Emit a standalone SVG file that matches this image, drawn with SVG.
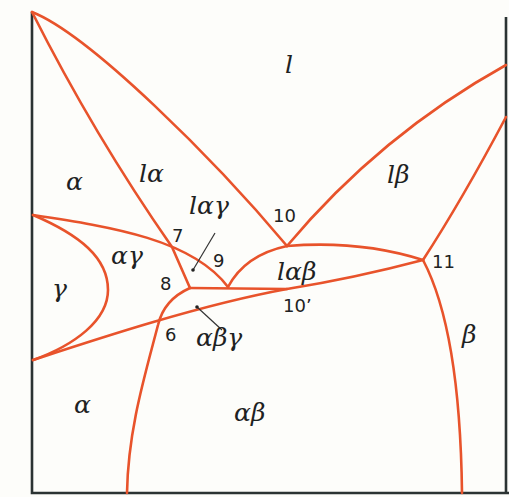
<svg xmlns="http://www.w3.org/2000/svg" width="509" height="497" viewBox="0 0 509 497">
<style>
.c{fill:none;stroke:#e8532b;stroke-width:2.6;stroke-linecap:round;stroke-linejoin:round}
.f{fill:none;stroke:#2b3333;stroke-width:2.6}
.g{font-family:"DejaVu Serif","Liberation Serif",serif;font-style:italic;font-size:25px;fill:#1e2222}
.n{font-family:"DejaVu Sans","Liberation Sans",sans-serif;font-size:18px;fill:#1e2222}
.ld{stroke:#333;stroke-width:1.2}
</style>
<rect width="509" height="497" fill="#fdfdfa"/>
<g id="frame">
<path class="f" d="M32,12 V493 H509"/>
<path class="f" d="M506,17 V493"/>
</g>
<g id="connectors">
<path class="c" d="M32,12 C90,35 215,160 287,246"/>
<path class="c" d="M32,12 Q94,135 172,247 L190,288"/>
<path class="c" d="M33,215 C113,227 193,240 228,287"/>
<path class="c" d="M33,215 C80,235 108,258 108,290 C108,320 75,345 33,360"/>
<path class="c" d="M33,360 C100,338 200,305 287,289"/>
<path class="c" d="M190,288 C172,296 162,308 158,325 C145,375 128,430 127,493"/>
<path class="c" d="M190,288 L287,289 Q355,278 423,260"/>
<path class="c" d="M228,287 Q245,255 287,246"/>
<path class="c" d="M287,246 Q360,240 423,260"/>
<path class="c" d="M287,246 Q380,135 506,65"/>
<path class="c" d="M423,260 Q462,200 506,117"/>
<path class="c" d="M423,260 Q460,330 462,493"/>
<path class="ld" d="M215,233 L193,270"/>
<circle cx="193" cy="270" r="1.8" fill="#222"/>
<path class="ld" d="M197,307 L222,330"/>
<circle cx="197" cy="307" r="1.8" fill="#222"/>
</g>
<g id="labels">
<text class="g" x="285" y="73">l</text>
<text class="g" x="66" y="190">α</text>
<text class="g" x="139" y="182">lα</text>
<text class="g" x="189" y="214">lαγ</text>
<text class="g" x="387" y="183">lβ</text>
<text class="g" x="111" y="264">αγ</text>
<text class="g" x="52" y="297">γ</text>
<text class="g" x="277" y="280">lαβ</text>
<text class="g" x="196" y="346">αβγ</text>
<text class="g" x="74" y="413">α</text>
<text class="g" x="234" y="421">αβ</text>
<text class="g" x="462" y="343">β</text>
<text class="n" x="172" y="242">7</text>
<text class="n" x="213" y="267">9</text>
<text class="n" x="160" y="290">8</text>
<text class="n" x="165" y="341">6</text>
<text class="n" x="273" y="222">10</text>
<text class="n" x="432" y="268">11</text>
<text class="n" x="283" y="312">10’</text>
</g>
</svg>
